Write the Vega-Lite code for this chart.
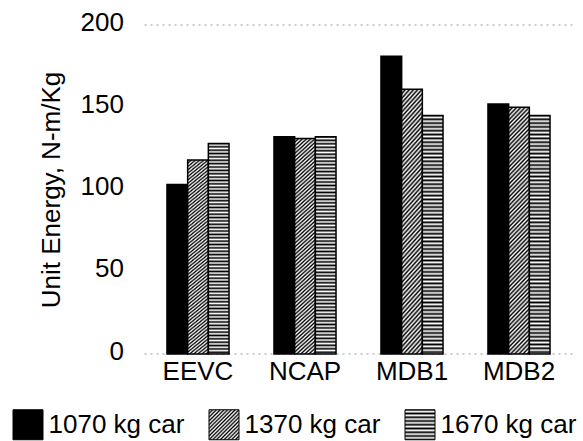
{
  "$schema": "https://vega.github.io/schema/vega-lite/v6.json",
  "width": 428,
  "height": 329,
  "autosize": {"type": "none"},
  "padding": {"left": 144.5, "top": 25, "right": 10.5, "bottom": 87},
  "background": "white",
  "params": [
    {"name": "stripes", "value": [
      {"offset":0,"color":"#000"},{"offset":0.008,"color":"#fff"},{"offset":0.016,"color":"#000"},{"offset":0.024,"color":"#fff"},
      {"offset":0.032,"color":"#000"},{"offset":0.04,"color":"#fff"},{"offset":0.048,"color":"#000"},{"offset":0.056,"color":"#fff"},
      {"offset":0.064,"color":"#000"},{"offset":0.072,"color":"#fff"},{"offset":0.08,"color":"#000"},{"offset":0.088,"color":"#fff"},
      {"offset":0.096,"color":"#000"},{"offset":0.104,"color":"#fff"},{"offset":0.112,"color":"#000"},{"offset":0.12,"color":"#fff"},
      {"offset":0.128,"color":"#000"},{"offset":0.136,"color":"#fff"},{"offset":0.144,"color":"#000"},{"offset":0.152,"color":"#fff"},
      {"offset":0.16,"color":"#000"},{"offset":0.168,"color":"#fff"},{"offset":0.176,"color":"#000"},{"offset":0.184,"color":"#fff"},
      {"offset":0.192,"color":"#000"},{"offset":0.2,"color":"#fff"},{"offset":0.208,"color":"#000"},{"offset":0.216,"color":"#fff"},
      {"offset":0.224,"color":"#000"},{"offset":0.232,"color":"#fff"},{"offset":0.24,"color":"#000"},{"offset":0.248,"color":"#fff"},
      {"offset":0.256,"color":"#000"},{"offset":0.264,"color":"#fff"},{"offset":0.272,"color":"#000"},{"offset":0.28,"color":"#fff"},
      {"offset":0.288,"color":"#000"},{"offset":0.296,"color":"#fff"},{"offset":0.304,"color":"#000"},{"offset":0.312,"color":"#fff"},
      {"offset":0.32,"color":"#000"},{"offset":0.328,"color":"#fff"},{"offset":0.336,"color":"#000"},{"offset":0.344,"color":"#fff"},
      {"offset":0.352,"color":"#000"},{"offset":0.36,"color":"#fff"},{"offset":0.368,"color":"#000"},{"offset":0.376,"color":"#fff"},
      {"offset":0.384,"color":"#000"},{"offset":0.392,"color":"#fff"},{"offset":0.4,"color":"#000"},{"offset":0.408,"color":"#fff"},
      {"offset":0.416,"color":"#000"},{"offset":0.424,"color":"#fff"},{"offset":0.432,"color":"#000"},{"offset":0.44,"color":"#fff"},
      {"offset":0.448,"color":"#000"},{"offset":0.456,"color":"#fff"},{"offset":0.464,"color":"#000"},{"offset":0.472,"color":"#fff"},
      {"offset":0.48,"color":"#000"},{"offset":0.488,"color":"#fff"},{"offset":0.496,"color":"#000"},{"offset":0.504,"color":"#fff"},
      {"offset":0.512,"color":"#000"},{"offset":0.52,"color":"#fff"},{"offset":0.528,"color":"#000"},{"offset":0.536,"color":"#fff"},
      {"offset":0.544,"color":"#000"},{"offset":0.552,"color":"#fff"},{"offset":0.56,"color":"#000"},{"offset":0.568,"color":"#fff"},
      {"offset":0.576,"color":"#000"},{"offset":0.584,"color":"#fff"},{"offset":0.592,"color":"#000"},{"offset":0.6,"color":"#fff"},
      {"offset":0.608,"color":"#000"},{"offset":0.616,"color":"#fff"},{"offset":0.624,"color":"#000"},{"offset":0.632,"color":"#fff"},
      {"offset":0.64,"color":"#000"},{"offset":0.648,"color":"#fff"},{"offset":0.656,"color":"#000"},{"offset":0.664,"color":"#fff"},
      {"offset":0.672,"color":"#000"},{"offset":0.68,"color":"#fff"},{"offset":0.688,"color":"#000"},{"offset":0.696,"color":"#fff"},
      {"offset":0.704,"color":"#000"},{"offset":0.712,"color":"#fff"},{"offset":0.72,"color":"#000"},{"offset":0.728,"color":"#fff"},
      {"offset":0.736,"color":"#000"},{"offset":0.744,"color":"#fff"},{"offset":0.752,"color":"#000"},{"offset":0.76,"color":"#fff"},
      {"offset":0.768,"color":"#000"},{"offset":0.776,"color":"#fff"},{"offset":0.784,"color":"#000"},{"offset":0.792,"color":"#fff"},
      {"offset":0.8,"color":"#000"},{"offset":0.808,"color":"#fff"},{"offset":0.816,"color":"#000"},{"offset":0.824,"color":"#fff"},
      {"offset":0.832,"color":"#000"},{"offset":0.84,"color":"#fff"},{"offset":0.848,"color":"#000"},{"offset":0.856,"color":"#fff"},
      {"offset":0.864,"color":"#000"},{"offset":0.872,"color":"#fff"},{"offset":0.88,"color":"#000"},{"offset":0.888,"color":"#fff"},
      {"offset":0.896,"color":"#000"},{"offset":0.904,"color":"#fff"},{"offset":0.912,"color":"#000"},{"offset":0.92,"color":"#fff"},
      {"offset":0.928,"color":"#000"},{"offset":0.936,"color":"#fff"},{"offset":0.944,"color":"#000"},{"offset":0.952,"color":"#fff"},
      {"offset":0.96,"color":"#000"},{"offset":0.968,"color":"#fff"},{"offset":0.976,"color":"#000"},{"offset":0.984,"color":"#fff"},
      {"offset":0.992,"color":"#000"},{"offset":1,"color":"#fff"}
    ]},
    {"name": "legHatch", "value": {"gradient": "linear", "x1": 0, "y1": 0, "x2": 1, "y2": 1, "stops": [
      {"offset":0,"color":"#000"},{"offset":0.03125,"color":"#fff"},{"offset":0.0625,"color":"#000"},{"offset":0.09375,"color":"#fff"},
      {"offset":0.125,"color":"#000"},{"offset":0.15625,"color":"#fff"},{"offset":0.1875,"color":"#000"},{"offset":0.21875,"color":"#fff"},
      {"offset":0.25,"color":"#000"},{"offset":0.28125,"color":"#fff"},{"offset":0.3125,"color":"#000"},{"offset":0.34375,"color":"#fff"},
      {"offset":0.375,"color":"#000"},{"offset":0.40625,"color":"#fff"},{"offset":0.4375,"color":"#000"},{"offset":0.46875,"color":"#fff"},
      {"offset":0.5,"color":"#000"},{"offset":0.53125,"color":"#fff"},{"offset":0.5625,"color":"#000"},{"offset":0.59375,"color":"#fff"},
      {"offset":0.625,"color":"#000"},{"offset":0.65625,"color":"#fff"},{"offset":0.6875,"color":"#000"},{"offset":0.71875,"color":"#fff"},
      {"offset":0.75,"color":"#000"},{"offset":0.78125,"color":"#fff"},{"offset":0.8125,"color":"#000"},{"offset":0.84375,"color":"#fff"},
      {"offset":0.875,"color":"#000"},{"offset":0.90625,"color":"#fff"},{"offset":0.9375,"color":"#000"},{"offset":0.96875,"color":"#fff"},
      {"offset":1,"color":"#000"}
    ]}},
    {"name": "legHoriz", "value": {"gradient": "linear", "x1": 0, "y1": 0, "x2": 0, "y2": 1, "stops": [
      {"offset":0,"color":"#000"},{"offset":0.0625,"color":"#fff"},{"offset":0.125,"color":"#000"},{"offset":0.1875,"color":"#fff"},
      {"offset":0.25,"color":"#000"},{"offset":0.3125,"color":"#fff"},{"offset":0.375,"color":"#000"},{"offset":0.4375,"color":"#fff"},
      {"offset":0.5,"color":"#000"},{"offset":0.5625,"color":"#fff"},{"offset":0.625,"color":"#000"},{"offset":0.6875,"color":"#fff"},
      {"offset":0.75,"color":"#000"},{"offset":0.8125,"color":"#fff"},{"offset":0.875,"color":"#000"},{"offset":0.9375,"color":"#fff"},
      {"offset":1,"color":"#000"}
    ]}}
  ],
  "config": {
    "font": "Liberation Sans",
    "view": {"stroke": null},
    "axis": {"labelColor": "#000", "titleColor": "#000"}
  },
  "layer": [
    {
      "data": {"values": [{"v": 0}, {"v": 200}]},
      "mark": {"type": "rule", "color": "#9a9a9a", "strokeDash": [2, 4], "strokeWidth": 1},
      "encoding": {
        "y": {
          "field": "v", "type": "quantitative",
          "scale": {"domain": [0, 200], "nice": false},
          "axis": {
            "title": "Unit Energy, N-m/Kg", "values": [0, 50, 100, 150, 200],
            "grid": false, "domain": false, "ticks": false, "tickSize": 0,
            "labelPadding": 21, "labelFontSize": 26, "labelOffset": -3,
            "titleFontSize": 26, "titleFontWeight": "normal", "titlePadding": 16
          }
        }
      }
    },
    {
      "data": {"values": [
        {"test": "EEVC", "car": "1070 kg car", "energy": 103},
        {"test": "EEVC", "car": "1370 kg car", "energy": 118},
        {"test": "EEVC", "car": "1670 kg car", "energy": 128},
        {"test": "NCAP", "car": "1070 kg car", "energy": 132},
        {"test": "NCAP", "car": "1370 kg car", "energy": 131},
        {"test": "NCAP", "car": "1670 kg car", "energy": 132},
        {"test": "MDB1", "car": "1070 kg car", "energy": 181},
        {"test": "MDB1", "car": "1370 kg car", "energy": 161},
        {"test": "MDB1", "car": "1670 kg car", "energy": 145},
        {"test": "MDB2", "car": "1070 kg car", "energy": 152},
        {"test": "MDB2", "car": "1370 kg car", "energy": 150},
        {"test": "MDB2", "car": "1670 kg car", "energy": 145}
      ]},
      "mark": {"type": "bar", "stroke": "#000", "strokeWidth": 1.5, "fillOpacity": 1},
      "encoding": {
        "x": {
          "field": "test", "type": "nominal",
          "sort": ["EEVC", "NCAP", "MDB1", "MDB2"],
          "scale": {"paddingInner": 0.42, "paddingOuter": 0.21},
          "axis": {"title": null, "labelAngle": 0, "labelFontSize": 26, "ticks": false, "domain": false, "labelPadding": 4}
        },
        "xOffset": {
          "field": "car", "type": "nominal",
          "sort": ["1070 kg car", "1370 kg car", "1670 kg car"],
          "scale": {"paddingInner": 0, "paddingOuter": 0}
        },
        "y": {
          "field": "energy", "type": "quantitative",
          "scale": {"domain": [0, 200], "nice": false},
          "axis": {
            "title": "Unit Energy, N-m/Kg", "values": [0, 50, 100, 150, 200],
            "grid": false, "domain": false, "ticks": false, "tickSize": 0,
            "labelPadding": 21, "labelFontSize": 26, "labelOffset": -3,
            "titleFontSize": 26, "titleFontWeight": "normal", "titlePadding": 16
          }
        },
        "fill": {
          "field": "car", "type": "nominal",
          "scale": {
            "domain": ["1070 kg car", "1370 kg car", "1670 kg car"],
            "range": ["#000", {"expr": "legHatch"}, {"expr": "legHoriz"}]
          },
          "condition": [
            {"test": "datum.car === '1370 kg car'", "value": {"expr": "{gradient: 'linear', x1: 0, y1: 0, x2: 0.094, y2: 1.078, stops: stripes}"}},
            {"test": "datum.car === '1670 kg car'", "value": {"expr": "{gradient: 'linear', x1: 0, y1: 0, x2: 0, y2: 1, stops: stripes}"}}
          ],
          "legend": {
            "title": null, "orient": "none", "legendX": -132, "legendY": 384,
            "direction": "horizontal", "symbolType": "square", "symbolSize": 900,
            "labelFontSize": 26, "labelColor": "#000", "labelOffset": 5, "columnPadding": 22,
            "symbolStrokeColor": "#000", "symbolStrokeWidth": 1, "symbolOpacity": 1
          }
        }
      }
    }
  ]
}
